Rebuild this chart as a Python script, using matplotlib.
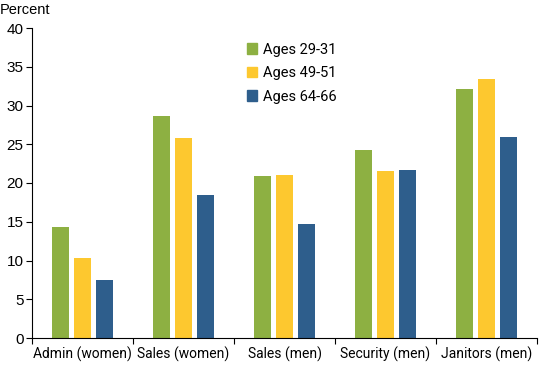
import matplotlib.pyplot as plt
import numpy as np
from matplotlib.patches import Patch

categories = ["Admin (women)", "Sales (women)", "Sales (men)", "Security (men)", "Janitors (men)"]
series_names = ["Ages 29-31", "Ages 49-51", "Ages 64-66"]
ages_29_31 = [14.3, 28.6, 20.9, 24.3, 32.1]
ages_49_51 = [10.3, 25.8, 21.0, 21.5, 33.4]
ages_64_66 = [7.5, 18.5, 14.7, 21.7, 25.9]
colors = ["#8db042", "#fdc82f", "#2e5e8c"]
yticks = [0, 5, 10, 15, 20, 25, 30, 35, 40]

fig = plt.figure(figsize=(5.5, 3.65), dpi=100)
ax = fig.add_axes([32 / 550, 27 / 365, 505 / 550, 310 / 365])

x = np.arange(len(categories))
width = 0.17
offsets = [-0.22, 0.0, 0.22]
for vals, off, c, name in zip([ages_29_31, ages_49_51, ages_64_66], offsets, colors, series_names):
    ax.bar(x + off, vals, width=width, color=c, label=name)

ax.set_xlim(-0.5, len(categories) - 0.5)
ax.set_ylim(0, 40)
ax.set_yticks(yticks)
ax.set_yticklabels([str(t) for t in yticks], family="Liberation Sans", fontsize=11)
ax.set_xticks(np.arange(len(categories) + 1) - 0.5)
ax.set_xticklabels([])
ax.set_xticks(x, minor=True)
ax.set_xticklabels(categories, minor=True, family="Roboto", fontsize=10)
ax.tick_params(axis="x", which="minor", length=0, pad=6)
ax.tick_params(axis="x", which="major", length=4, width=0.8)
ax.tick_params(axis="y", length=4, width=0.8, pad=2)

for s in ["top", "right"]:
    ax.spines[s].set_visible(False)
ax.spines["left"].set_linewidth(0.8)
ax.spines["bottom"].set_linewidth(0.8)

fig.text(0.0, 1 - 10 / 365, "Percent", family="Liberation Sans", fontsize=10.5, va="center", ha="left")

handles = [Patch(color=c) for c in colors]
ax.legend(handles, series_names, loc="upper left", bbox_to_anchor=(0.40, 0.995),
          frameon=False, prop={"family": "Roboto", "size": 10.5},
          handlelength=0.7, handleheight=0.7, handletextpad=0.4, labelspacing=0.65)

fig.savefig("out.png", dpi=100)
